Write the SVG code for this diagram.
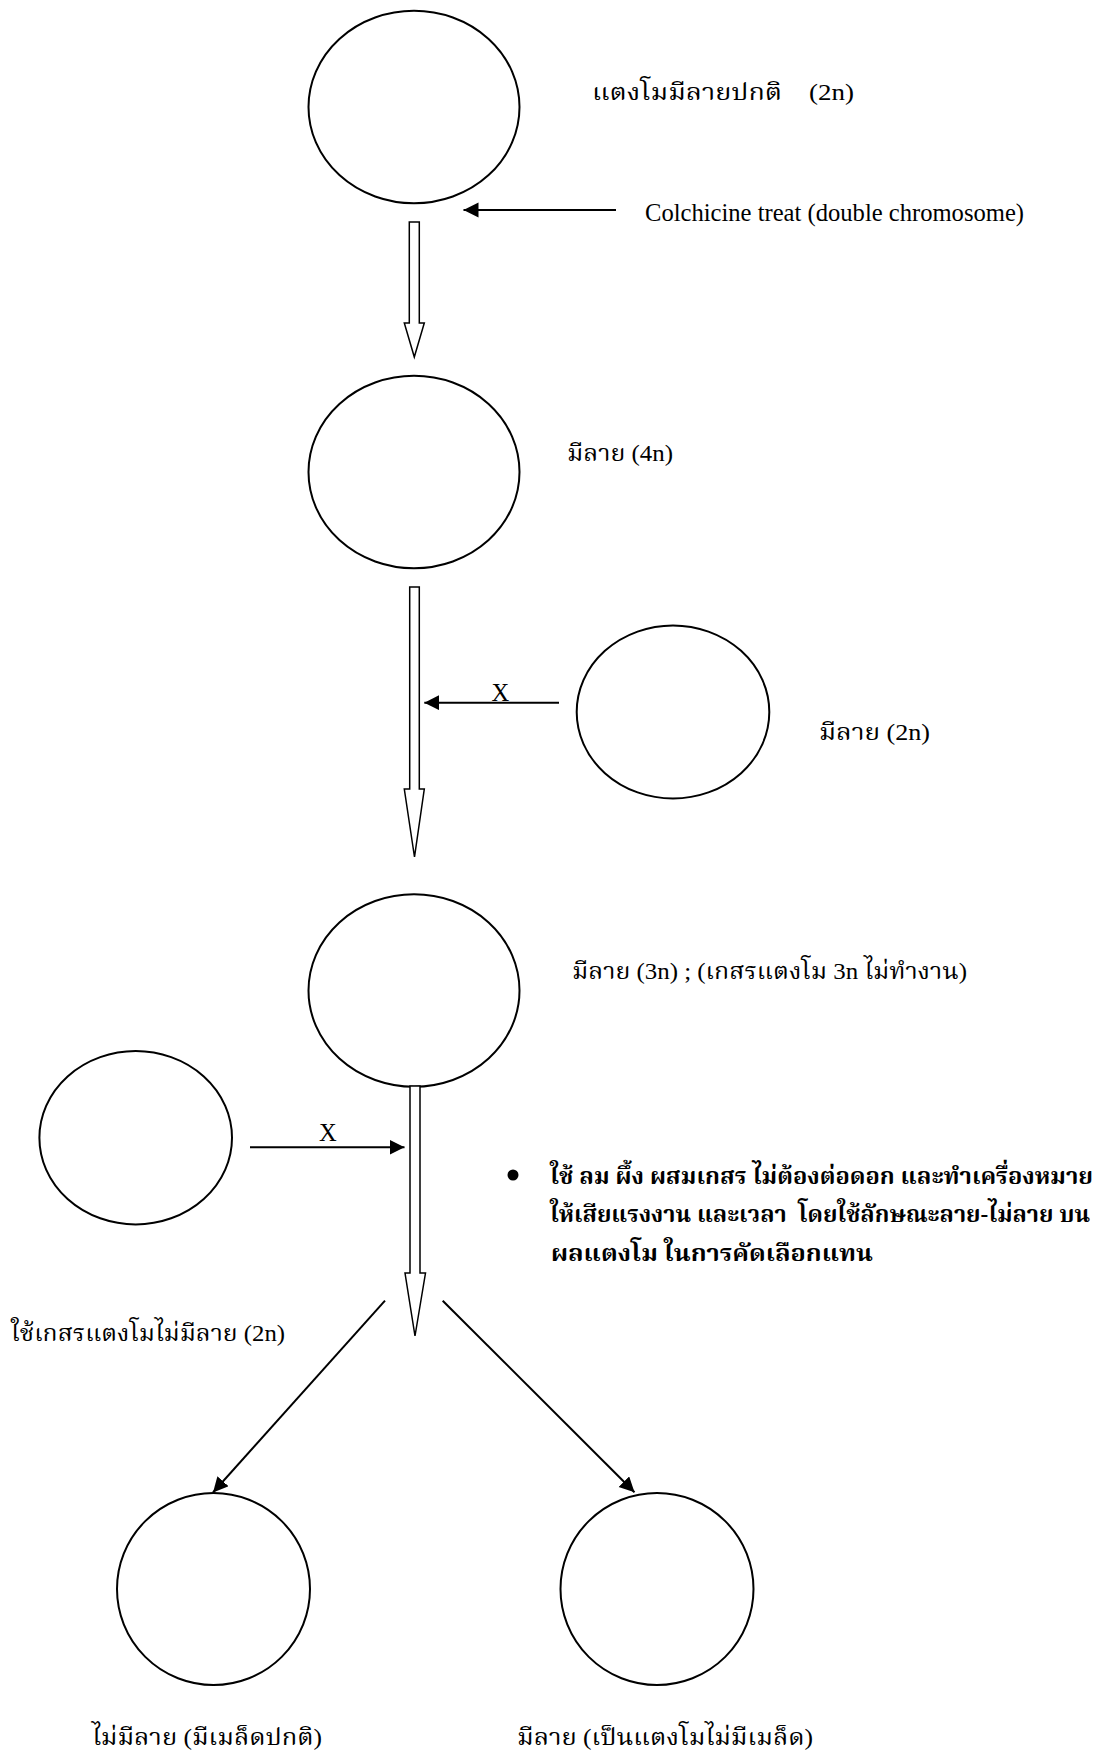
<svg xmlns="http://www.w3.org/2000/svg" width="1101" height="1751" viewBox="0 0 1101 1751">
<style>
.node{fill:none;stroke:#000;stroke-width:2}
.hollow{fill:#fff;stroke:#000;stroke-width:1.5}
.conn{stroke:#000;stroke-width:2;fill:none}
.lat{font-family:"Liberation Serif","Times New Roman",serif;font-size:24.5px;fill:#000}
.th{font-family:"Liberation Serif","Noto Serif Thai","Noto Sans Thai",serif;font-size:23px;fill:#000;white-space:pre}
.thb{font-family:"Liberation Serif","Noto Serif Thai","Noto Sans Thai",serif;font-size:23px;font-weight:bold;fill:#000;white-space:pre}
</style>
<defs>
<marker id="ah" markerUnits="userSpaceOnUse" markerWidth="16" markerHeight="16" refX="15" refY="7.5" orient="auto">
<path d="M0,0 L15,7.5 L0,15 z" fill="#000"/>
</marker>
</defs>
<rect width="1101" height="1751" fill="#fff"/>

<g id="n1"><ellipse class="node" cx="414" cy="107" rx="105.5" ry="96.3"/>
<text class="th" x="592" y="100" textLength="262" lengthAdjust="spacingAndGlyphs">แตงโมมีลายปกติ    (2n)</text></g>
<g id="colchicine"><text class="lat" x="645" y="221" textLength="379" lengthAdjust="spacingAndGlyphs">Colchicine treat (double chromosome)</text></g>

<g id="n2"><ellipse class="node" cx="414" cy="472" rx="105.5" ry="96.2"/>
<text class="th" x="567" y="461" textLength="106" lengthAdjust="spacingAndGlyphs">มีลาย (4n)</text></g>

<g id="n3"><ellipse class="node" cx="673" cy="712" rx="96.3" ry="86.5"/>
<text class="th" x="819" y="740" textLength="111" lengthAdjust="spacingAndGlyphs">มีลาย (2n)</text></g>

<g id="n4"><ellipse class="node" cx="414" cy="990.5" rx="105.5" ry="96.2"/>
<text class="th" x="572" y="979" textLength="395" lengthAdjust="spacingAndGlyphs">มีลาย (3n) ; (เกสรแตงโม 3n ไม่ทำงาน)</text></g>

<g id="n5"><ellipse class="node" cx="135.7" cy="1137.7" rx="96.3" ry="86.7"/>
<text class="th" x="11" y="1341" textLength="274" lengthAdjust="spacingAndGlyphs">ใช้เกสรแตงโมไม่มีลาย (2n)</text></g>

<g id="n6"><ellipse class="node" cx="213.5" cy="1589" rx="96.5" ry="96"/>
<text class="th" x="92" y="1745" textLength="230" lengthAdjust="spacingAndGlyphs">ไม่มีลาย (มีเมล็ดปกติ)</text></g>

<g id="n7"><ellipse class="node" cx="657" cy="1589" rx="96.5" ry="96"/>
<text class="th" x="517" y="1745" textLength="296" lengthAdjust="spacingAndGlyphs">มีลาย (เป็นแตงโมไม่มีเมล็ด)</text></g>

<g id="note">
<circle cx="513" cy="1175" r="5.5" fill="#000"/>
<text class="thb" x="550" y="1184" textLength="543" lengthAdjust="spacingAndGlyphs">ใช้ ลม ผึ้ง ผสมเกสร ไม่ต้องต่อดอก และทำเครื่องหมาย</text>
<text class="thb" x="550" y="1222" textLength="540" lengthAdjust="spacingAndGlyphs">ให้เสียแรงงาน และเวลา  โดยใช้ลักษณะลาย-ไม่ลาย บน</text>
<text class="thb" x="551" y="1261" textLength="322" lengthAdjust="spacingAndGlyphs">ผลแตงโม ในการคัดเลือกแทน</text>
</g>

<g id="connectors">
<polygon class="hollow" points="409.3,222 419.3,222 419.3,323 424.3,323 414.3,357 404.3,323 409.3,323"/>
<polygon class="hollow" points="409.7,587 419.3,587 419.3,789 424.3,789 414.5,857 404.3,789 409.7,789"/>
<polygon class="hollow" points="410,1086 420,1086 420,1273 425.5,1273 415,1336 405,1273 410,1273"/>
<line class="conn" x1="616" y1="210" x2="463.5" y2="210" marker-end="url(#ah)"/>
<line class="conn" x1="559" y1="702.7" x2="424.3" y2="702.7" marker-end="url(#ah)"/>
<text class="lat" x="491.5" y="700.5">X</text>
<line class="conn" x1="250" y1="1147.3" x2="404.5" y2="1147.3" marker-end="url(#ah)"/>
<text class="lat" x="319" y="1141">X</text>
<line class="conn" x1="385" y1="1300.7" x2="213" y2="1492.5" marker-end="url(#ah)"/>
<line class="conn" x1="442.7" y1="1300.7" x2="634.5" y2="1492.3" marker-end="url(#ah)"/>
</g>
</svg>
